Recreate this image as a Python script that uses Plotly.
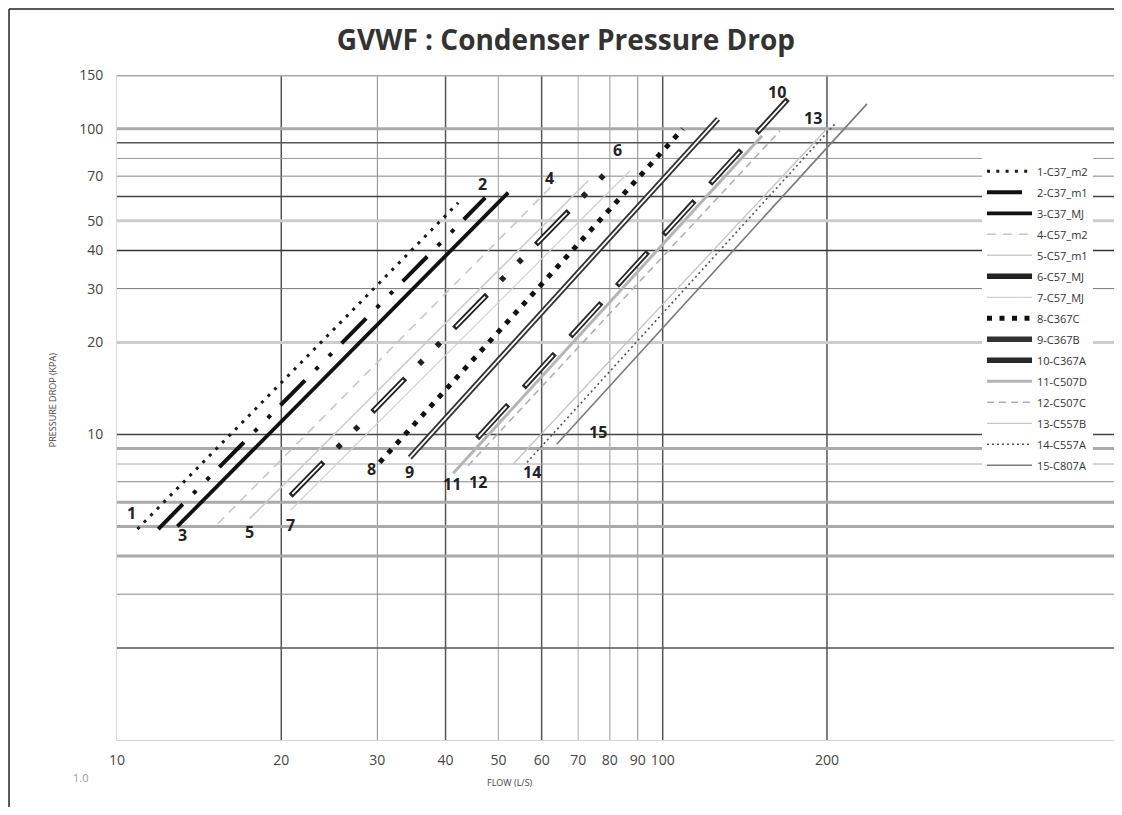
import numpy as np
import plotly.graph_objects as go

# ---------------- data ----------------
series_names = ["1-C37_m2", "2-C37_m1", "3-C37_MJ", "4-C57_m2", "5-C57_m1",
                "6-C57_MJ", "7-C57_MJ", "8-C367C", "9-C367B", "10-C367A",
                "11-C507D", "12-C507C", "13-C557B", "14-C557A", "15-C807A"]
flow_start = [10.9, 11.9, 12.9, 15.3, 17.5, 20.8, 20.8, 30.3, 34.4, 45.7, 41.3, 44.0, 53.2, 56.4, 64.0]
flow_end   = [42.2, 47.3, 52.1, 63.8, 73.0, 80.7, 87.1, 108.9, 126.3, 169.7, 152.1, 164.0, 200.0, 206.9, 236.8]
dp_start   = [4.9, 4.9, 5.0, 5.1, 5.3, 6.3, 5.65, 8.1, 8.4, 9.7, 7.46, 7.9, 8.0, 8.1, 9.3]
dp_end     = [57.3, 59.5, 61.8, 67.1, 67.6, 75.1, 72.9, 100.0, 107.8, 125.3, 94.9, 98.5, 100.0, 103.8, 120.7]

label_text = ["1", "2", "3", "4", "5", "6", "7", "8", "9", "10", "11", "12", "13", "14", "15"]
label_flow = [10.65, 46.7, 13.2, 61.9, 17.46, 82.8, 20.75, 29.3, 34.4, 162.0, 41.1, 45.9, 188.5, 57.6, 76.1]
label_dp   = [5.52, 66.1, 4.68, 69.2, 4.78, 85.4, 5.04, 7.69, 7.51, 132.1, 6.86, 6.97, 108.6, 7.51, 10.15]

x_tick_vals = [10, 20, 30, 40, 50, 60, 70, 80, 90, 100, 200]
x_tick_text = ["10", "20", "30", "40", "50", "60", "70", "80", "90", "100", "200"]
y_tick_vals = [10, 20, 30, 40, 50, 70, 100, 150]
y_tick_text = ["10", "20", "30", "40", "50", "70", "100", "150"]

x_grid = [20, 30, 40, 50, 60, 70, 80, 90, 100, 200]
y_grid = [2, 3, 4, 5, 6, 7, 8, 9, 10, 20, 30, 40, 50, 60, 70, 80, 90, 100, 150]

# ---------------- styles ----------------
# (color, width, dash, double-line)
styles = [
    ("#1a1a1a", 3.0, "3px,6.3px", False),
    ("#111111", 4.0, "35px,15px,4px,15px,4px,14px", False),
    ("#111111", 3.8, "solid", False),
    ("#c8c8c8", 1.6, "9px,7px", False),
    ("#cccccc", 1.6, "solid", False),
    ("#222222", 5.5, "47px,20px,5px,20px,5px,20px", True),
    ("#cfcfcf", 1.2, "solid", False),
    ("#111111", 5.0, "5px,7.5px", False),
    ("#333333", 5.5, "solid", True),
    ("#2a2a2a", 5.5, "46px,23px", True),
    ("#b4b4b4", 3.0, "solid", False),
    ("#b0b0b0", 1.6, "7px,5px", False),
    ("#c4c4c4", 1.3, "solid", False),
    ("#555555", 1.6, "2px,3px", False),
    ("#7a7a7a", 1.6, "solid", False),
]
inner_dash = {5: "0px,2.5px,42px,72.5px", 8: "solid", 9: "0px,2.5px,41px,25.5px"}

x_grid_style = {20: ("#555", 1.5), 30: ("#888", 1), 40: ("#555", 1.5), 50: ("#b0b0b0", 1.2),
                60: ("#555", 1.5), 70: ("#bbb", 1.2), 80: ("#aaa", 1.2), 90: ("#888", 1),
                100: ("#555", 1.5), 200: ("#555", 1.5)}
y_grid_style = {2: ("#555", 1.5), 3: ("#888", 1), 4: ("#aaa", 3), 5: ("#aaa", 3), 6: ("#aaa", 3),
                7: ("#888", 1), 8: ("#aaa", 1), 9: ("#aaa", 3), 10: ("#444", 1.5),
                20: ("#ccc", 3), 30: ("#777", 1), 40: ("#333", 1.5), 50: ("#ccc", 3),
                60: ("#444", 1.5), 70: ("#888", 1), 80: ("#999", 1), 90: ("#555", 1.5),
                100: ("#aaa", 3), 150: ("#aaa", 3)}

fig = go.Figure()
for i, name in enumerate(series_names):
    color, width, dash, double = styles[i]
    xs = [flow_start[i], flow_end[i]]
    ys = [dp_start[i], dp_end[i]]
    fig.add_trace(go.Scatter(x=xs, y=ys, mode="lines", name=name,
                             legendgroup=name,
                             line=dict(color=color, width=width, dash=dash)))
    if double:
        fig.add_trace(go.Scatter(x=xs, y=ys, mode="lines", showlegend=False,
                                 legendgroup=name, hoverinfo="skip",
                                 line=dict(color="white", width=1.8, dash=inner_dash[i])))

shapes = []
for v in x_grid:
    c, w = x_grid_style[v]
    shapes.append(dict(type="line", xref="x", yref="paper", x0=v, x1=v, y0=0, y1=1,
                       line=dict(color=c, width=w), layer="below"))
for v in y_grid:
    c, w = y_grid_style[v]
    shapes.append(dict(type="line", xref="paper", yref="y", x0=0, x1=1, y0=v, y1=v,
                       line=dict(color=c, width=w), layer="below"))
# outer frame of the picture (left and top)
shapes.append(dict(type="line", xref="paper", yref="paper", x0=-0.1083, x1=-0.1083,
                   y0=-0.1008, y1=1.0992, line=dict(color="#222", width=1.5)))
shapes.append(dict(type="line", xref="paper", yref="paper", x0=-0.1083, x1=1.0,
                   y0=1.0992, y1=1.0992, line=dict(color="#222", width=1.5)))

annotations = []
for t, fx, fy in zip(label_text, label_flow, label_dp):
    annotations.append(dict(x=np.log10(fx), y=np.log10(fy), xref="x", yref="y",
                            text="<b>" + t + "</b>", showarrow=False,
                            font=dict(family="Open Sans", size=16, color="#222"),
                            xanchor="center", yanchor="middle"))
annotations.append(dict(x=-0.0652, y=0.511, xref="paper", yref="paper", text="PRESSURE DROP (KPA)",
                        textangle=-90, showarrow=False, xanchor="center", yanchor="middle",
                        font=dict(family="Open Sans", size=9, color="#444")))
annotations.append(dict(x=0.3942, y=-0.0632, xref="paper", yref="paper", text="FLOW (L/S)",
                        showarrow=False, xanchor="center", yanchor="middle",
                        font=dict(family="Open Sans", size=9, color="#444")))
annotations.append(dict(x=-0.0371, y=-0.0571, xref="paper", yref="paper", text="1.0",
                        showarrow=False, xanchor="center", yanchor="middle",
                        font=dict(family="Open Sans", size=11, color="#999")))

fig.update_layout(
    width=1106, height=799,
    margin=dict(l=109, r=0, t=67, b=67, autoexpand=False),
    paper_bgcolor="white", plot_bgcolor="white",
    title=dict(text="<b>GVWF : Condenser Pressure Drop</b>", x=0.5045, xanchor="center",
               y=0.96, yref="container", yanchor="middle",
               font=dict(family="Open Sans", size=28, color="#333")),
    showlegend=True,
    legend=dict(x=0.8676, y=0.877, xanchor="left", yanchor="top", bgcolor="white",
                font=dict(family="Open Sans", size=11, color="#333"),
                tracegroupgap=2, itemwidth=45),
    shapes=shapes,
    annotations=annotations,
)
fig.update_xaxes(type="log", range=[1, 2.827], tickvals=x_tick_vals, ticktext=x_tick_text,
                 showgrid=False, zeroline=False, showline=True, linecolor="#d9d9d9", linewidth=1,
                 ticks="", ticklabelstandoff=7,
                 tickfont=dict(family="Open Sans", size=14, color="#444"))
fig.update_yaxes(type="log", range=[0, np.log10(150)], tickvals=y_tick_vals, ticktext=y_tick_text,
                 showgrid=False, zeroline=False, showline=True, linecolor="#d9d9d9", linewidth=1,
                 ticks="", ticklabelstandoff=10,
                 tickfont=dict(family="Open Sans", size=14, color="#444"))

fig.write_html("out.html")
